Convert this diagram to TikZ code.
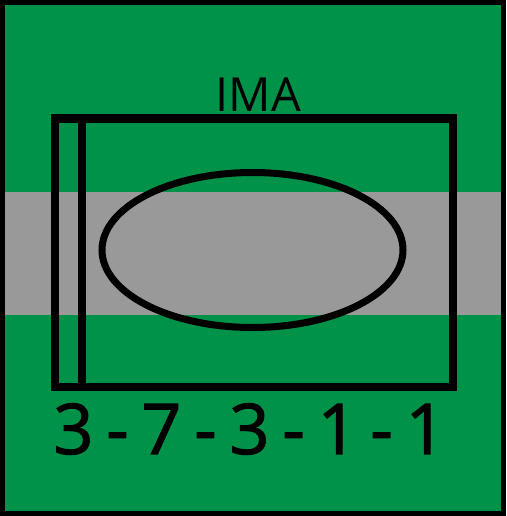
\documentclass[tikz,border=0pt]{standalone}
\usepackage{fontspec}
\setmainfont{Open Sans}
\newfontfamily\codfont[FakeBold=1.6, WordSpace=0.7]{Open Sans}
\usetikzlibrary{shapes.geometric, positioning, calc}
\definecolor{campo}{RGB}{0,146,72}
\definecolor{faixa}{RGB}{153,153,153}
\tikzset{
  borda/.style = {draw=black, line width=5pt, fill=campo},
  band/.style = {fill=faixa},
  moldura/.style = {draw=black, line width=8pt},
  elip/.style = {ellipse, draw=black, line width=7pt, minimum width=301pt,
    minimum height=155pt, inner sep=0pt},
  rotulo/.style = {font=\fontsize{47}{47}\selectfont, inner sep=0pt},
  codigo/.style = {font=\codfont\fontsize{70}{70}\selectfont, inner sep=0pt}
}

\begin{document}
\begin{tikzpicture}[x=1pt, y=-1pt]
  \useasboundingbox (0,0) rectangle (506,516);
  \draw [borda] (2.5,2.4) rectangle (503.5,513);
  \fill [band] (5,192) rectangle (501,315);
  \draw [moldura] (55,118.5) rectangle (453,387);
  \coordinate (t) at (82,118.5);
  \coordinate (b) at (82,387);
  \draw [moldura] (t) -- (b);
  \node [elip] (e) at (252.5,250) {};
  \node [rotulo, anchor=base] (ima) at (258.5,111) {IMA};
  \node [codigo, anchor=base] (cod) at (249.5,454) {3 - 7 - 3 - 1 - 1};
\end{tikzpicture}
\end{document}
